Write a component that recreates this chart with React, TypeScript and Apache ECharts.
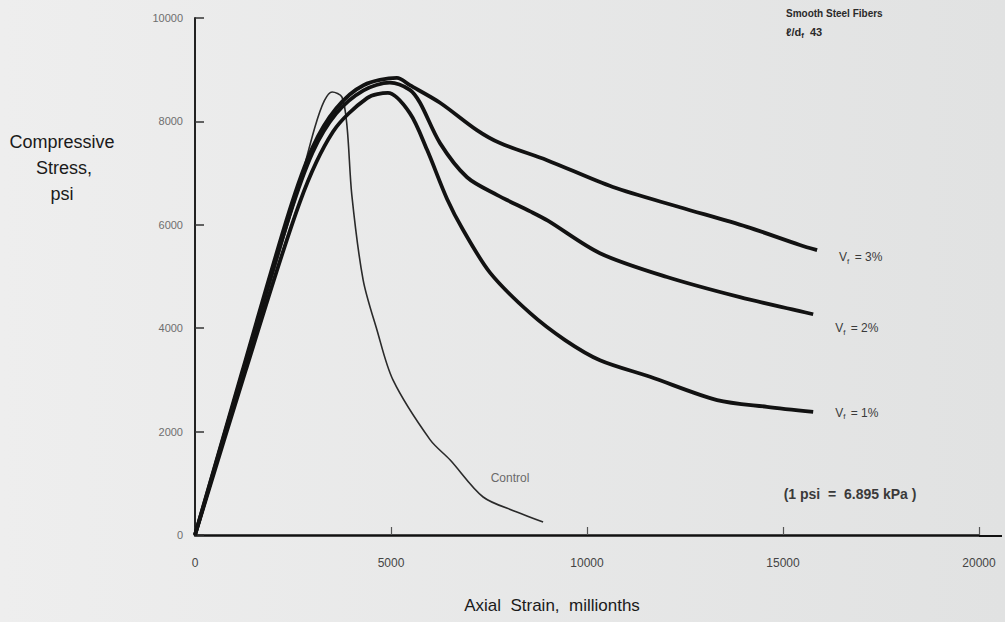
import React, { useEffect, useRef } from "react";
import * as echarts from "echarts";

// Axis ticks
const xTickValues = [0, 5000, 10000, 15000, 20000];
const yTickValues = [0, 2000, 4000, 6000, 8000, 10000];

// Control (plain concrete)
const controlStrain = [0, 1300, 2600, 3060, 3300, 3500, 3750, 3880, 4000, 4290, 4640, 5050, 6000, 6510, 7350, 8210, 8880];
const controlStress = [0, 3300, 6600, 7890, 8400, 8570, 8470, 7890, 6580, 4930, 3970, 3000, 1840, 1450, 735, 445, 250];

// Vf = 1%
const vf1Strain = [0, 1300, 2680, 3520, 4390, 4920, 5480, 5920, 6430, 6840, 7530, 8550, 9440, 10330, 11610, 13320, 14590, 15770];
const vf1Stress = [0, 3200, 6450, 7800, 8450, 8550, 8160, 7450, 6500, 5900, 5070, 4290, 3770, 3380, 3060, 2610, 2480, 2380];

// Vf = 2%
const vf2Strain = [0, 1200, 2400, 3000, 3600, 4300, 4970, 5480, 5740, 6250, 6940, 7700, 8550, 9000, 10330, 12040, 13900, 15430, 15770];
const vf2Stress = [0, 3100, 6150, 7400, 8150, 8600, 8750, 8610, 8360, 7580, 6920, 6580, 6260, 6080, 5450, 4990, 4600, 4330, 4270];

// Vf = 3%
const vf3Strain = [0, 1200, 2400, 3000, 3600, 4300, 5150, 5480, 6250, 7190, 7780, 8980, 10660, 12370, 14080, 15430, 15870];
const vf3Stress = [0, 3150, 6250, 7500, 8250, 8700, 8840, 8700, 8360, 7830, 7580, 7250, 6730, 6340, 5960, 5610, 5510];

const curveNames = ["Control", "1%", "2%", "3%"];

const pairs = (xs: number[], ys: number[]) => xs.map((x, i) => [x, ys[i]]);

const SANS = "'Liberation Sans', Arial, sans-serif";
const NARROW = "'Liberation Sans Narrow', 'Liberation Sans', Arial, sans-serif";

const vfLabel = (pct: string, offY: number) => ({
  show: true,
  formatter: `{v|V}{s|f}{v| = ${pct}}`,
  offset: [14, offY],
  rich: {
    v: { fontSize: 12, color: "#3a3a3a", fontFamily: NARROW, lineHeight: 16, verticalAlign: "middle" },
    s: { fontSize: 8, color: "#3a3a3a", fontFamily: NARROW, lineHeight: 16, verticalAlign: "bottom", padding: [7, 2, 0, 0] },
  },
});

export default function App() {
  const ref = useRef<HTMLDivElement>(null);
  useEffect(() => {
    if (!ref.current) return;
    const chart = echarts.init(ref.current, undefined, { renderer: "svg" });
    const thick = { color: "#121212", width: 3.8 };
    const option: any = {
      animation: false,
      backgroundColor: new echarts.graphic.LinearGradient(0, 0, 1, 0, [
        { offset: 0, color: "#eeeeee" },
        { offset: 1, color: "#e1e2e2" },
      ]),
      grid: { left: 195, right: 26, top: 18, bottom: 87 },
      xAxis: {
        type: "value",
        min: xTickValues[0],
        max: xTickValues[xTickValues.length - 1],
        interval: 5000,
        axisLine: { show: true, lineStyle: { color: "#111", width: 2.5 } },
        axisTick: { show: true, inside: true, length: 8, lineStyle: { color: "#555", width: 1.2 } },
        splitLine: { show: false },
        axisLabel: { margin: 22, color: "#444444", fontSize: 12, fontFamily: NARROW, formatter: (v: number) => String(v) },
      },
      yAxis: {
        type: "value",
        min: yTickValues[0],
        max: yTickValues[yTickValues.length - 1],
        interval: 2000,
        axisLine: { show: true, lineStyle: { color: "#222", width: 2 } },
        axisTick: { show: true, inside: true, length: 9, lineStyle: { color: "#333", width: 1.5 } },
        splitLine: { show: false },
        axisLabel: { margin: 12, color: "#6e6e6e", fontSize: 11, fontFamily: SANS, formatter: (v: number) => String(v) },
      },
      series: [
        {
          name: curveNames[0],
          type: "line",
          data: pairs(controlStrain, controlStress),
          showSymbol: false,
          smooth: 0.3,
          lineStyle: { color: "#2a2a2a", width: 1.6 },
        },
        {
          name: curveNames[1],
          type: "line",
          data: pairs(vf1Strain, vf1Stress),
          showSymbol: false,
          smooth: 0.3,
          lineStyle: thick,
          endLabel: vfLabel("1%", 1),
        },
        {
          name: curveNames[2],
          type: "line",
          data: pairs(vf2Strain, vf2Stress),
          showSymbol: false,
          smooth: 0.3,
          lineStyle: thick,
          endLabel: vfLabel("2%", 14),
        },
        {
          name: curveNames[3],
          type: "line",
          data: pairs(vf3Strain, vf3Stress),
          showSymbol: false,
          smooth: 0.3,
          lineStyle: thick,
          endLabel: vfLabel("3%", 7),
        },
      ],
      graphic: [
        { type: "line", shape: { x1: 979, y1: 536, x2: 1002, y2: 536 }, style: { stroke: "#111", lineWidth: 2 } },
        {
          type: "text", x: 62, y: 142,
          style: { text: "Compressive", fontSize: 18, fontFamily: SANS, fill: "#1a1a1a", align: "center", verticalAlign: "middle" },
        },
        {
          type: "text", x: 64, y: 168,
          style: { text: "Stress,", fontSize: 18, fontFamily: SANS, fill: "#1a1a1a", align: "center", verticalAlign: "middle" },
        },
        {
          type: "text", x: 62, y: 194,
          style: { text: "psi", fontSize: 18, fontFamily: SANS, fill: "#1a1a1a", align: "center", verticalAlign: "middle" },
        },
        {
          type: "text", x: 552, y: 605,
          style: { text: "Axial  Strain,  millionths", fontSize: 17, fontFamily: SANS, fill: "#1a1a1a", align: "center", verticalAlign: "middle" },
        },
        {
          type: "text", x: 510, y: 478,
          style: { text: "Control", fontSize: 12, fontFamily: NARROW, fill: "#6a6a6a", align: "center", verticalAlign: "middle" },
        },
        {
          type: "text", x: 850, y: 494,
          style: { text: "(1 psi  =  6.895 kPa )", fontSize: 14, fontWeight: "bold", fontFamily: NARROW, fill: "#3a3a3a", align: "center", verticalAlign: "middle" },
        },
        {
          type: "text", x: 786, y: 13,
          style: { text: "Smooth Steel Fibers", fontSize: 10, fontWeight: "bold", fontFamily: NARROW, fill: "#2a2a2a", align: "left", verticalAlign: "middle" },
        },
        {
          type: "text", x: 786, y: 32,
          style: {
            text: "{b|ℓ/d}{s|f}{b|  43}",
            align: "left", verticalAlign: "middle",
            rich: {
              b: { fontSize: 11, fontWeight: "bold", fontFamily: NARROW, fill: "#2a2a2a", lineHeight: 14, verticalAlign: "middle" },
              s: { fontSize: 8, fontWeight: "bold", fontFamily: NARROW, fill: "#2a2a2a", lineHeight: 14, verticalAlign: "bottom", padding: [6, 0, 0, 0] },
            },
          },
        },
      ],
    };
    chart.setOption(option);
    return () => chart.dispose();
  }, []);
  return (
    <div
      ref={ref}
      style={{ position: "fixed", left: 0, top: 0, width: 1005, height: 622 }}
    />
  );
}
